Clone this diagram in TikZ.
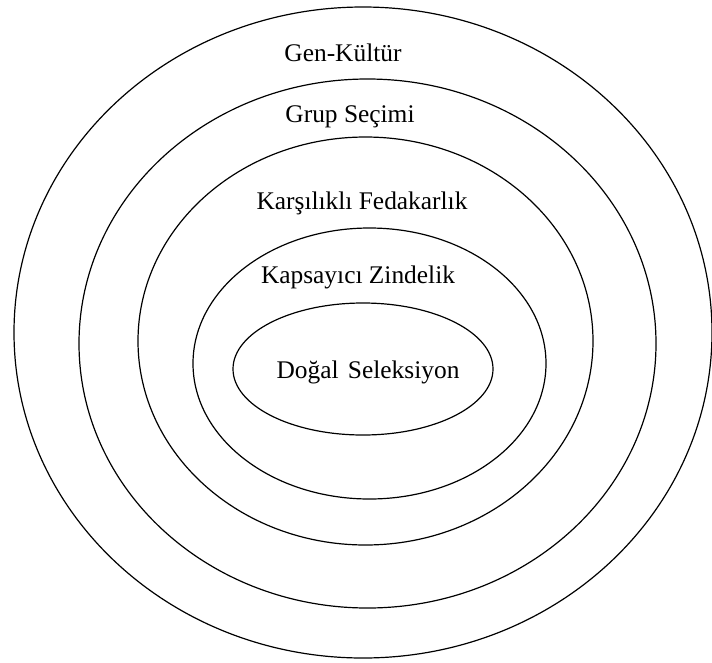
\documentclass[tikz,border=0pt]{standalone}
\usepackage{fontspec}
\setmainfont{Liberation Serif}
\usepackage{tikz}
\usetikzlibrary{shapes.geometric}
\tikzstyle{ring} = [ellipse, draw=black, line width=1.2pt, inner sep=0pt]
\tikzstyle{label} = [font=\fontsize{25.4}{30}\selectfont, text=black, inner sep=0pt]

\begin{document}
\begin{tikzpicture}[x=1pt, y=-1pt]
\useasboundingbox (0,0) rectangle (712,662);

% Rings
\node (genkultur) [ring, minimum width=698pt, minimum height=651pt] at (363,332.5) {};
\node (grup) [ring, minimum width=577pt, minimum height=529pt] at (367.5,343.5) {};
\node (karsilikli) [ring, minimum width=455pt, minimum height=408pt] at (365.5,341) {};
\node (kapsayici) [ring, minimum width=353pt, minimum height=271pt] at (369.5,363.5) {};
\node (dogal) [ring, minimum width=260pt, minimum height=132pt] at (363,369) {};

% Labels
\node (genkulturlabel) [label] at (343,53) {Gen-Kültür};
\node (gruplabel) [label] at (350,117) {Grup Seçimi};
\node (karsiliklilabel) [label] at (362,203) {Karşılıklı Fedakarlık};
\node (kapsayicilabel) [label] at (358,277) {Kapsayıcı Zindelik};
\node (dogallabel) [label] at (368,372) {Doğal\hspace{0.37em}Seleksiyon};

\end{tikzpicture}
\end{document}
